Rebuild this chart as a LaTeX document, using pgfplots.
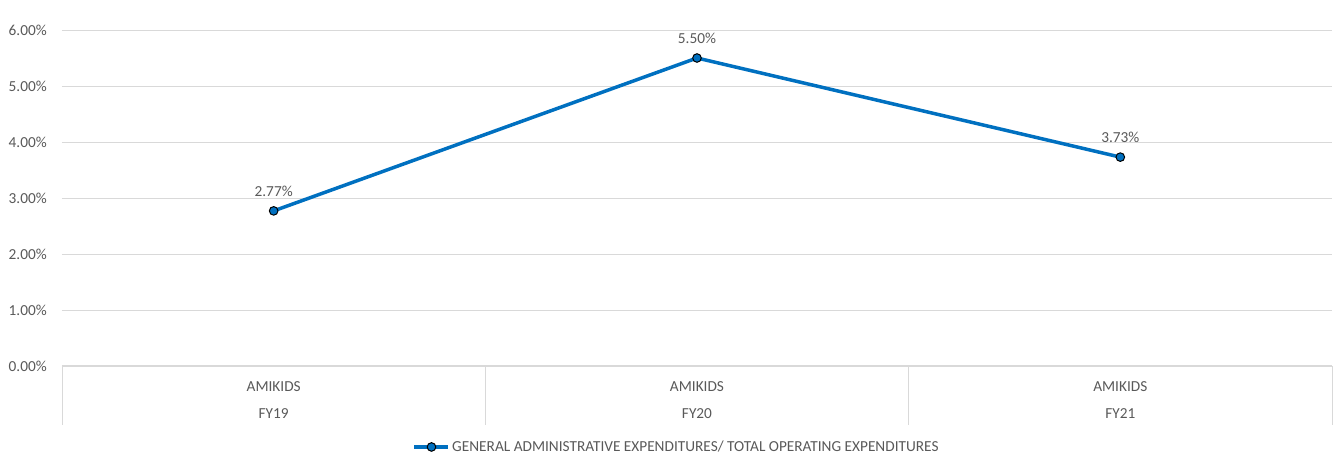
\documentclass[border=0pt]{standalone}
\usepackage{fontspec}
\setmainfont{Carlito}
\usepackage{pgfplots}
\pgfplotsset{compat=1.18}
\definecolor{txt}{HTML}{595959}
\definecolor{gridc}{HTML}{D9D9D9}
\definecolor{lineblue}{HTML}{0070C0}
\begin{document}
\begin{tikzpicture}[font=\fontsize{15.3}{17}\selectfont]
\path[use as bounding box] (-62pt,-98pt) rectangle (1274pt,366pt);
\begin{axis}[
  scale only axis, width=1270pt, height=336pt,
  xmin=-0.5, xmax=2.5, ymin=0, ymax=6,
  axis line style={draw=none},
  major tick length=0pt,
  /pgf/number format/assume math mode=true,
  ytick={0,1,2,3,4,5,6},
  yticklabels={0.00\%,1.00\%,2.00\%,3.00\%,4.00\%,5.00\%,6.00\%},
  ymajorgrids, major grid style={gridc, line width=0.9pt},
  xtick={0,1,2},
  xticklabels={{AMIKIDS\\[10pt]FY19},{AMIKIDS\\[10pt]FY20},{AMIKIDS\\[10pt]FY21}},
  xticklabel style={anchor=north, inner sep=0pt, yshift=-15pt, align=center, text=txt, font=\fontsize{15.3}{17}\selectfont},
  yticklabel style={anchor=east, inner sep=0pt, xshift=-15pt, text=txt, font=\fontsize{15.3}{17}\selectfont},
  legend style={at={(0.484,-0.241)}, anchor=center, draw=none, fill=none, inner sep=0pt,
    font=\fontsize{15.3}{17}\selectfont, text=txt},
  legend image code/.code={\draw[mark repeat=2,mark phase=2,#1] plot coordinates {(0pt,0pt) (17pt,0pt) (34pt,0pt)};},
  clip=false,
]
\draw[gridc, line width=1.3pt] (axis cs:-0.5,0) -- (axis cs:2.5,0);
\draw[gridc, line width=0.9pt] (axis cs:-0.5,0) -- ++(0pt,-59pt);
\draw[gridc, line width=0.9pt] (axis cs:0.5,0) -- ++(0pt,-59pt);
\draw[gridc, line width=0.9pt] (axis cs:1.5,0) -- ++(0pt,-59pt);
\draw[gridc, line width=0.9pt] (axis cs:2.5,0) -- ++(0pt,-59pt);
\addplot[lineblue, line width=3.5pt, mark=*, mark size=4.3pt,
  mark options={fill=lineblue, draw=black, line width=1pt},
  nodes near coords={\pgfmathprintnumber[fixed,fixed zerofill,precision=2,assume math mode=true]{\pgfplotspointmeta}\%},
  point meta=y,
  every node near coord/.append style={anchor=south, inner sep=0pt, yshift=14pt, text=txt, font=\fontsize{15.3}{17}\selectfont}]
  coordinates {(0,2.77) (1,5.50) (2,3.73)};
\addlegendentry{GENERAL ADMINISTRATIVE EXPENDITURES/ TOTAL OPERATING EXPENDITURES}
\end{axis}
\end{tikzpicture}
\end{document}
